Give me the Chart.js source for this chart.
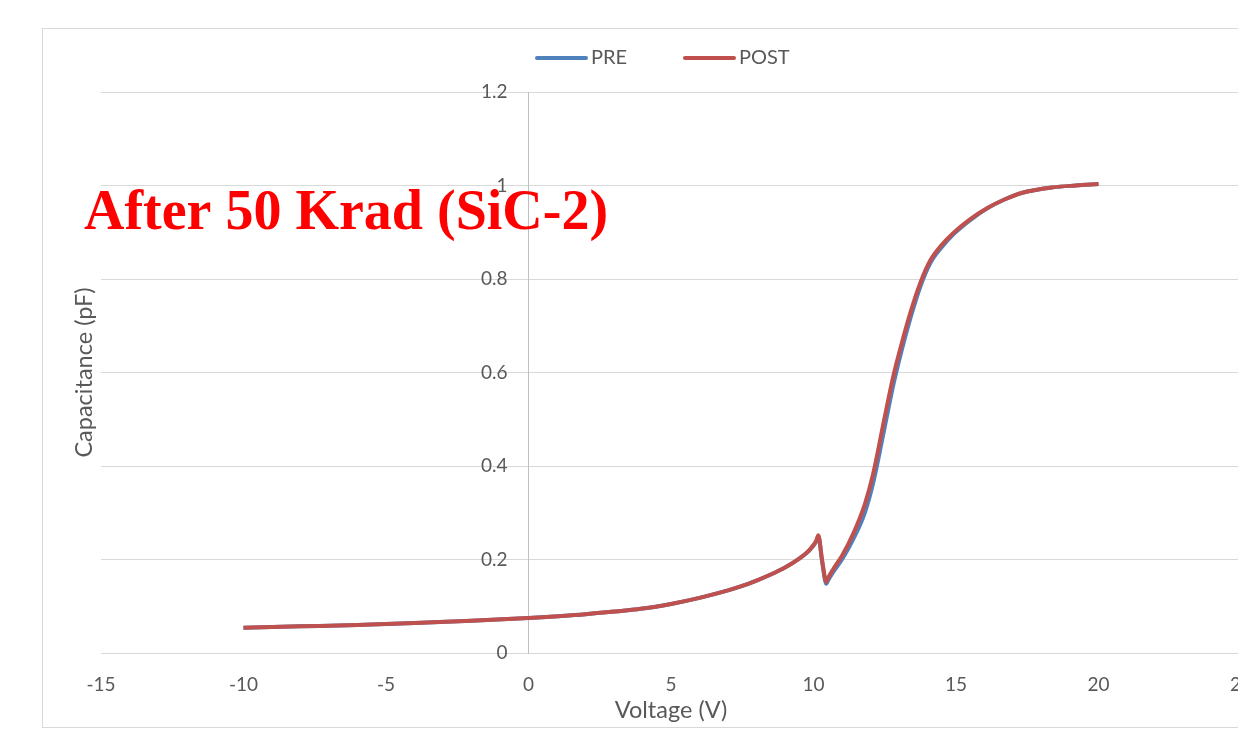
<!DOCTYPE html>
<html>
<head>
<meta charset="utf-8">
<script src="https://cdn.jsdelivr.net/npm/chart.js@4.4.0/dist/chart.umd.min.js"></script>
<style>
  html, body { margin: 0; padding: 0; background: #fff; overflow: hidden; width: 1238px; height: 731px; }
  #box { position: absolute; left: 42px; top: 28px; width: 1260px; height: 698px; border: 1px solid #d9d9d9; }
  #box canvas { display: block; }
</style>
</head>
<body>
<div id="box"><canvas id="cv"></canvas></div>
<script>
// C-V sweep
const voltage = [-10, -8, -6, -4, -2, 0, 2, 4, 5, 6, 7, 7.5, 8, 8.5, 9, 9.5, 9.8, 10.0, 10.1, 10.17, 10.3, 10.45, 10.5, 10.7, 11.0, 11.4, 11.8, 12.1, 12.45, 12.8, 13.05, 13.4, 13.75, 14.1, 14.5, 14.9, 15.5, 16.1, 16.7, 17.3, 18.4, 19.2, 20];
const pre  = [0.054, 0.057, 0.060, 0.064, 0.069, 0.075, 0.083, 0.095, 0.105, 0.118, 0.134, 0.1435, 0.155, 0.168, 0.183, 0.202, 0.216, 0.230, 0.239, 0.250, 0.196, 0.148, 0.154, 0.174, 0.200, 0.244, 0.300, 0.365, 0.468, 0.573, 0.637, 0.716, 0.784, 0.834, 0.868, 0.895, 0.926, 0.951, 0.970, 0.984, 0.996, 1.000, 1.003];
const post = [0.054, 0.057, 0.060, 0.064, 0.069, 0.075, 0.083, 0.095, 0.105, 0.118, 0.134, 0.1435, 0.155, 0.168, 0.183, 0.202, 0.217, 0.231, 0.241, 0.252, 0.200, 0.152, 0.159, 0.180, 0.208, 0.256, 0.318, 0.385, 0.490, 0.592, 0.652, 0.728, 0.792, 0.840, 0.873, 0.898, 0.928, 0.952, 0.970, 0.984, 0.996, 1.000, 1.003];
const seriesNames = ['PRE', 'POST'];
const seriesColors = ['#4F81BD', '#C0504D'];
const xRange = [-15, 25, 5];
const yRange = [0, 1.2, 0.2];
const overlayText = 'After 50 Krad (SiC-2)';

const textGray = '#595959';
const font = 'Lato';

function pts(ys) {
    return voltage.map((v, i) => ({ x: v, y: ys[i] }));
}

function yLabel(v) {
    return String(Number(v.toFixed(1)));
}

const legendX = [492, 640];

const decor = {
    id: 'decor',
    afterDraw(chart) {
        const ctx = chart.ctx;
        const area = chart.chartArea;
        const xs = chart.scales.x;
        const ys = chart.scales.y;

        // y tick labels sit left of the axis at x = 0 (Excel style)
        ctx.save();
        ctx.font = '19px ' + font;
        ctx.fillStyle = textGray;
        ctx.textAlign = 'right';
        ctx.textBaseline = 'middle';
        const axisX = xs.getPixelForValue(0);
        ys.ticks.forEach(t => {
            ctx.fillText(yLabel(t.value), axisX - 21, ys.getPixelForValue(t.value));
        });
        ctx.restore();

        // y axis title
        ctx.save();
        ctx.font = '23.5px ' + font;
        ctx.fillStyle = textGray;
        ctx.textAlign = 'center';
        ctx.textBaseline = 'middle';
        ctx.translate(41, (area.top + area.bottom) / 2);
        ctx.rotate(-Math.PI / 2);
        ctx.fillText('Capacitance (pF)', 0, 0);
        ctx.restore();

        // legend
        ctx.save();
        chart.data.datasets.forEach((ds, i) => {
            const x = legendX[i];
            ctx.strokeStyle = ds.borderColor;
            ctx.lineWidth = 4;
            ctx.lineCap = 'round';
            ctx.beginPath();
            ctx.moveTo(x + 2, 29);
            ctx.lineTo(x + 51, 29);
            ctx.stroke();
            ctx.font = '20px ' + font;
            ctx.fillStyle = textGray;
            ctx.textAlign = 'left';
            ctx.textBaseline = 'middle';
            ctx.fillText(ds.label, x + 56, 29);
        });
        ctx.restore();

        // red overlay caption
        ctx.save();
        ctx.font = 'bold 56px "Liberation Serif"';
        ctx.fillStyle = '#ff0000';
        ctx.textAlign = 'left';
        ctx.textBaseline = 'alphabetic';
        ctx.fillText(overlayText, 41, 200);
        ctx.restore();
    }
};

const ctx = document.getElementById('cv').getContext('2d');
const myChart = new Chart(ctx, {
    type: 'line',
    data: {
        datasets: [
            {
                label: seriesNames[0],
                data: pts(pre),
                borderColor: seriesColors[0],
                backgroundColor: seriesColors[0],
                borderWidth: 4,
                pointRadius: 0,
                cubicInterpolationMode: 'monotone',
                order: 1,
            },
            {
                label: seriesNames[1],
                data: pts(post),
                borderColor: seriesColors[1],
                backgroundColor: seriesColors[1],
                borderWidth: 4,
                pointRadius: 0,
                cubicInterpolationMode: 'monotone',
                order: 0,
            },
        ]
    },
    options: {
        responsive: true,
        maintainAspectRatio: false,
        animation: false,
        layout: {
            padding: { left: 58, top: 63, right: 62, bottom: 0 }
        },
        scales: {
            x: {
                type: 'linear',
                position: 'bottom',
                min: xRange[0],
                max: xRange[1],
                afterFit: (scale) => { scale.height = 74; },
                ticks: {
                    stepSize: xRange[2],
                    padding: 20,
                    color: textGray,
                    font: { family: font, size: 19 }
                },
                grid: {
                    display: false,
                    drawTicks: false,
                },
                border: {
                    display: true,
                    color: '#d9d9d9',
                    width: 1,
                },
                title: {
                    display: true,
                    text: 'Voltage (V)',
                    color: textGray,
                    font: { family: font, size: 23.5 },
                    padding: { top: 0, bottom: 2 }
                }
            },
            y: {
                type: 'linear',
                position: { x: 0 },
                min: yRange[0],
                max: yRange[1],
                ticks: {
                    stepSize: yRange[2],
                    display: false,
                },
                grid: {
                    color: '#d9d9d9',
                    lineWidth: 1,
                    drawTicks: false,
                },
                border: {
                    display: true,
                    color: '#bfbfbf',
                    width: 1,
                },
            },
        },
        plugins: {
            legend: { display: false },
            tooltip: { enabled: false }
        }
    },
    plugins: [decor]
});
</script>
</body>
</html>
